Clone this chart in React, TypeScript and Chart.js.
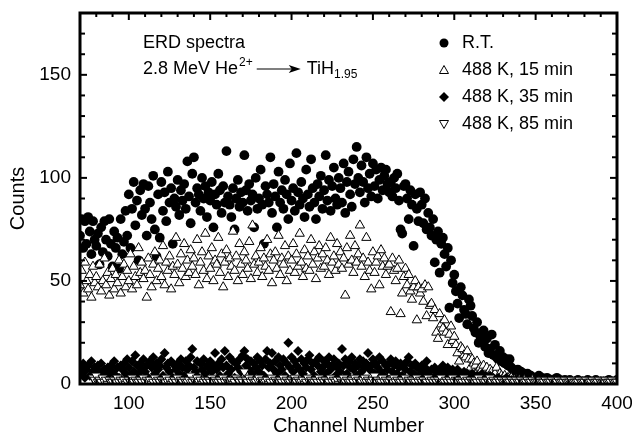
import React, { useEffect, useRef } from "react";
import { Chart, registerables } from "chart.js";

Chart.register(...registerables);

// ---- data ----
const firstChannel = 70; // channel of the first value in every series

const rtCounts: (number | null)[] = [
  72, 80, 66, 79, 68, 81, 74, 63, 79, 70, // 70
  67, 73, 58, 76, 64, 79, 70, 62, 80, 68, // 80
  57, 74, 66, 71, 56, 80, 63, 69, 84, 72, // 90
  92, 66, 85, 98, 77, 89, 60, 94, 82, 97, // 100
  85, 72, 96, 88, 80, 101, 75, 62, 92, 71, // 110
  98, 84, 93, 79, 103, 88, 95, 68, 90, 86, // 120
  99, 82, 94, 89, 97, 85, 108, 91, 78, 102, // 130
  110, 88, 95, 92, 84, 100, 90, 96, 81, 93, // 140
  89, 98, 76, 92, 87, 102, 94, 83, 96, 88, // 150
  113, 91, 87, 81, 95, 75, 90, 99, 86, 93, // 160
  88, 111, 94, 84, 97, 89, 92, 76, 100, 85, // 170
  90, 104, 87, 68, 96, 92, 88, 110, 83, 97, // 180
  91, 76, 103, 88, 94, 85, 99, 92, 80, 107, // 190
  89, 95, 84, 112, 93, 87, 98, 90, 81, 104, // 200
  92, 86, 109, 95, 88, 80, 97, 91, 101, 85, // 210
  94, 111, 89, 99, 84, 96, 105, 90, 87, 100, // 220
  95, 88, 107, 83, 98, 103, 92, 86, 109, 97, // 230
  115, 100, 93, 106, 98, 88, 110, 95, 102, 91, // 240
  107, 96, 104, 90, 99, 105, 94, 101, 104, 97, // 250
  93, 98, 91, 100, 95, 102, 89, 75, 73, 96, // 260
  97, 90, 80, 94, 87, 67, 92, 85, 79, 93, // 270
  87, 78, 90, 75, 83, 76, 72, 80, 59, 70, // 280
  74, 54, 68, 71, 63, 57, 66, 37, 60, 49, // 290
  53, 45, 39, 32, 47, 43, 36, 34, 29, 41, // 300
  38, 33, 27, 25, 30, 20, 23, 21, 26, 18, // 310
  22, 15, 17, 24, 14, 19, 13, 12, 16, 11, // 320
  13, 10, 12, 9, 12, 8, 7, 6, 5, 7, // 330
  4, 6, 3, 5, 4, 5, 3, 4, 2, 3, // 340
  3, 2, 4, 2, 3, 2, 1, 3, 2, 2, // 350
  1, 2, 1, 3, 1, 2, 1, 1, 2, 1, // 360
  1, 2, 1, 1, 0, 1, 2, 1, 1, 0, // 370
  1, 1, 2, 0, 1, 1, 0, 2, 1, 1, // 380
  0, 1, 1, 0, 1, 2, 0, 1, 1, 1, // 390
  2, // 400
];

const min15Counts: (number | null)[] = [
  48, 55, 44, 59, 50, 46, 53, 42, 57, 49, // 70
  52, 47, 58, 45, 50, 61, 48, 54, 43, 51, // 80
  56, 46, 53, 49, 60, 44, 52, 58, 47, 55, // 90
  50, 63, 46, 57, 52, 48, 66, 54, 59, 51, // 100
  55, 42, 61, 53, 47, 58, 64, 50, 56, 60, // 110
  52, 67, 48, 59, 55, 62, 46, 57, 53, 71, // 120
  58, 49, 63, 56, 68, 52, 60, 54, 65, 57, // 130
  61, 53, 70, 48, 59, 64, 55, 73, 51, 62, // 140
  56, 66, 50, 60, 58, 71, 54, 63, 47, 59, // 150
  65, 52, 61, 57, 74, 55, 62, 50, 68, 58, // 160
  53, 64, 60, 56, 69, 51, 77, 58, 62, 54, // 170
  59, 66, 52, 61, 57, 70, 55, 63, 49, 60, // 180
  64, 56, 72, 53, 61, 58, 67, 50, 62, 55, // 190
  60, 68, 54, 63, 57, 73, 59, 52, 65, 56, // 200
  62, 55, 70, 58, 64, 51, 61, 67, 56, 63, // 210
  57, 66, 60, 53, 71, 59, 62, 55, 68, 58, // 220
  64, 56, 61, 43, 66, 58, 72, 60, 54, 67, // 230
  59, 63, 77, 57, 61, 52, 71, 59, 55, 46, // 240
  64, 54, 59, 62, 48, 65, 57, 61, 53, 57, // 250
  58, 35, 61, 55, 50, 56, 60, 34, 44, 52, // 260
  56, 48, 53, 45, 41, 47, 50, 31, 47, 44, // 270
  46, 40, 48, 33, 47, 38, 39, 32, 36, 25, // 280
  22, 34, 29, 27, 31, 25, 19, 24, 28, 21, // 290
  23, 19, 15, 11, 18, 17, 14, 13, 16, 12, // 300
  8, 12, 10, 9, 11, 7, 8, 7, 9, 6, // 310
  8, 5, 7, 6, 4, 5, 8, 3, 5, 4, // 320
  3, 4, 2, 3, 2, 3, 1, 2, 2, 1, // 330
  2, 1, 1, 2, 1, 0, 1, 1, 2, 1, // 340
  1, 0, 1, 1, 0, 1, 1, 0, 1, 1, // 350
  0, 1, 1, 0, 1, 0, 1, 1, 0, 1, // 360
  1, 0, 1, 0, 1, 1, 0, 1, 0, 1, // 370
  0, 1, 1, 0, 1, 0, 1, 0, 1, 0, // 380
  1, 0, 1, 1, 0, 1, 0, 1, 0, 1, // 390
  0, // 400
];

const min35Counts: (number | null)[] = [
  8, 5, 10, 3, 7, 9, 4, 11, 6, 8, // 70
  3, 9, 6, 10, 4, 7, 2, 8, 5, 9, // 80
  6, 11, 4, 8, 3, 9, 7, 10, 5, 12, // 90
  8, 4, 11, 6, 14, 9, 5, 10, 7, 12, // 100
  6, 9, 3, 11, 8, 13, 5, 10, 7, 9, // 110
  12, 4, 15, 8, 10, 6, 11, 3, 9, 7, // 120
  10, 5, 12, 8, 4, 11, 7, 9, 13, 17, // 130
  8, 6, 11, 3, 10, 7, 12, 5, 9, 8, // 140
  11, 6, 9, 15, 7, 10, 4, 12, 8, 16, // 150
  9, 5, 13, 7, 11, 3, 10, 8, 12, 6, // 160
  14, 16, 9, 12, 7, 11, 5, 10, 8, 13, // 170
  6, 11, 9, 4, 12, 16, 8, 10, 15, 7, // 180
  11, 5, 13, 9, 7, 12, 4, 10, 20, 8, // 190
  13, 6, 11, 9, 16, 7, 12, 5, 10, 8, // 200
  12, 14, 7, 10, 4, 11, 9, 13, 6, 8, // 210
  11, 5, 10, 13, 7, 9, 12, 4, 8, 10, // 220
  6, 17, 9, 12, 5, 11, 8, 13, 7, 10, // 230
  4, 9, 12, 6, 11, 8, 10, 15, 7, 9, // 240
  12, 5, 10, 8, 13, 6, 11, 4, 9, 7, // 250
  10, 12, 6, 9, 11, 5, 8, 10, 4, 9, // 260
  7, 11, 13, 6, 9, 5, 10, 8, 4, 7, // 270
  9, 5, 8, 11, 6, 4, 7, 3, 8, 6, // 280
  5, 7, 4, 9, 3, 6, 8, 4, 5, 7, // 290
  3, 6, 7, 4, 5, 2, 6, 3, 5, 4, // 300
  4, 5, 2, 3, 4, 2, 3, 5, 2, 4, // 310
  2, 3, 4, 2, 3, 1, 2, 3, 2, 1, // 320
  2, 1, 3, 2, 1, 2, 1, 1, 2, 1, // 330
  1, 2, 1, 0, 1, 1, 2, 0, 1, 1, // 340
  0, 1, 1, 0, 1, 0, 1, 1, 0, 1, // 350
  1, 0, 1, 1, 0, 1, 0, 0, 1, 0, // 360
  0, 1, 0, 1, 0, 0, 1, 0, 1, 0, // 370
  1, 0, 0, 1, 0, 1, 0, 1, 0, 0, // 380
  0, 1, 0, 0, 1, 0, 1, 0, 0, 1, // 390
  0, // 400
];

const min85Counts: (number | null)[] = [
  null, null, null, null, null, null, null, null, 3, 2, // 70
  4, 1, 2, 1, 3, 1, 2, 0, 2, 1, // 80
  1, 2, 1, 3, 1, 2, 1, 2, 0, 1, // 90
  2, 1, 3, 1, 2, 1, 1, 2, 1, 3, // 100
  1, 2, 1, 2, 0, 1, 3, 1, 2, 1, // 110
  2, 1, 1, 3, 1, 2, 0, 1, 2, 1, // 120
  3, 1, 2, 1, 2, 1, 1, 2, 4, 1, // 130
  2, 1, 3, 1, 2, 0, 1, 2, 1, 2, // 140
  1, 3, 1, 2, 1, 1, 2, 1, 3, 1, // 150
  2, 1, 1, 2, 0, 1, 3, 2, 1, 2, // 160
  1, 6, 2, 1, 3, 1, 2, 1, 1, 2, // 170
  3, 1, 2, 1, 1, 2, 0, 1, 3, 1, // 180
  2, 1, 1, 2, 1, 3, 1, 2, 1, 1, // 190
  2, 1, 3, 1, 2, 1, 1, 2, 0, 1, // 200
  3, 1, 2, 1, 1, 2, 1, 3, 1, 2, // 210
  1, 2, 1, 1, 3, 1, 2, 1, 2, 0, // 220
  2, 1, 3, 1, 2, 1, 1, 2, 1, 3, // 230
  1, 2, 1, 1, 2, 3, 1, 2, 1, 1, // 240
  2, 4, 1, 2, 1, 1, 3, 1, 2, 1, // 250
  1, 2, 1, 3, 1, 2, 1, 1, 2, 1, // 260
  3, 1, 2, 1, 2, 1, 1, 3, 1, 2, // 270
  1, 2, 1, 1, 3, 1, 2, 1, 2, 1, // 280
  2, 1, 3, 1, 1, 2, 1, 2, 1, 3, // 290
  1, 2, 1, 2, 1, 1, 3, 1, 2, 1, // 300
  2, 1, 1, 2, 1, 3, 1, 2, 1, 1, // 310
  2, 1, 3, 1, 2, 1, 1, 2, 1, 2, // 320
  1, 1, 2, 1, 1, 2, 1, 1, 2, 1, // 330
  1, 2, 1, 1, 1, 2, 1, 1, 2, 1, // 340
  1, 1, 2, 1, 1, 1, 2, 1, 1, 1, // 350
  2, 1, 1, 1, 2, 1, 1, 1, 2, 1, // 360
  1, 1, 2, 1, 1, 1, 1, 2, 1, 1, // 370
  1, 2, 1, 1, 1, 2, 1, 1, 1, 2, // 380
  1, 1, 1, 2, 1, 1, 1, 2, 1, 1, // 390
  1, // 400
];

const seriesLabels = ["R.T.", "488 K, 15 min", "488 K, 35 min", "488 K, 85 min"];

const xRange = [70, 400];
const yRange = [0, 180];
const xMajorTicks = [100, 150, 200, 250, 300, 350, 400];
const xMinorTicks = [70, 80, 90, 110, 120, 130, 140, 160, 170, 180, 190, 210, 220, 230, 240, 260, 270, 280, 290, 310, 320, 330, 340, 360, 370, 380, 390];
const yMajorTicks = [0, 50, 100, 150];
const yMinorTicks = [10, 20, 30, 40, 60, 70, 80, 90, 110, 120, 130, 140, 160, 170];

const xTitle = "Channel Number";
const yTitle = "Counts";
const noteLine1 = "ERD spectra";
const noteBeam = "2.8 MeV He";
const noteCharge = "2+";
const noteTarget = "TiH";
const noteStoich = "1.95";

// ---- styles ----
const FONT = '"Liberation Sans", Arial, Helvetica, sans-serif';

function toPoints(values: (number | null)[]) {
  return values.map((v, i) => ({ x: firstChannel + i, y: v }));
}

function drawMarker(ctx: CanvasRenderingContext2D, kind: string, cx: number, cy: number) {
  ctx.save();
  ctx.fillStyle = "#000";
  ctx.strokeStyle = "#000";
  ctx.lineWidth = 1;
  ctx.beginPath();
  if (kind === "circle") {
    ctx.arc(cx, cy, 4.5, 0, Math.PI * 2);
    ctx.fill();
  } else if (kind === "up") {
    ctx.moveTo(cx, cy - 4.5);
    ctx.lineTo(cx + 4.5, cy + 3.5);
    ctx.lineTo(cx - 4.5, cy + 3.5);
    ctx.closePath();
    ctx.fillStyle = "#fff";
    ctx.fill();
    ctx.stroke();
  } else if (kind === "diamond") {
    ctx.moveTo(cx, cy - 5);
    ctx.lineTo(cx + 5, cy);
    ctx.lineTo(cx, cy + 5);
    ctx.lineTo(cx - 5, cy);
    ctx.closePath();
    ctx.fill();
  } else {
    ctx.moveTo(cx, cy + 4.5);
    ctx.lineTo(cx + 4.5, cy - 3.5);
    ctx.lineTo(cx - 4.5, cy - 3.5);
    ctx.closePath();
    ctx.fillStyle = "#fff";
    ctx.fill();
    ctx.stroke();
  }
  ctx.restore();
}

const framePlugin = {
  id: "frameAndText",
  afterDatasetsDraw(chart: any) {
    const { ctx, chartArea: a, scales } = chart;
    const xs = scales.x;
    const ys = scales.y;
    ctx.save();
    ctx.strokeStyle = "#000";
    ctx.fillStyle = "#000";

    const line = (x1: number, y1: number, x2: number, y2: number) => {
      ctx.beginPath();
      ctx.moveTo(x1, y1);
      ctx.lineTo(x2, y2);
      ctx.stroke();
    };

    // tick marks (inward, on all four sides)
    ctx.lineWidth = 2;
    const xt = [...xMajorTicks.map((v) => [v, 7]), ...xMinorTicks.map((v) => [v, 4])];
    xt.forEach(([v, len]) => {
      const px = xs.getPixelForValue(v);
      line(px, a.bottom, px, a.bottom - len);
      line(px, a.top, px, a.top + len);
    });
    const yt = [...yMajorTicks.map((v) => [v, 7]), ...yMinorTicks.map((v) => [v, 5])];
    yt.forEach(([v, len]) => {
      const py = ys.getPixelForValue(v);
      line(a.left, py, a.left + len, py);
      line(a.right, py, a.right - len, py);
    });

    // frame
    ctx.lineWidth = 3;
    ctx.strokeRect(a.left, a.top, a.right - a.left, a.bottom - a.top);

    // tick labels
    ctx.font = `19px ${FONT}`;
    ctx.textAlign = "center";
    ctx.textBaseline = "top";
    xMajorTicks.forEach((v) => ctx.fillText(String(v), xs.getPixelForValue(v), a.bottom + 10));
    ctx.textAlign = "right";
    ctx.textBaseline = "middle";
    yMajorTicks.forEach((v) => ctx.fillText(String(v), a.left - 9, ys.getPixelForValue(v)));

    // axis titles
    ctx.font = `20px ${FONT}`;
    ctx.textAlign = "center";
    ctx.textBaseline = "middle";
    ctx.fillText(xTitle, (a.left + a.right) / 2, 426);
    ctx.save();
    ctx.translate(18, (a.top + a.bottom) / 2);
    ctx.rotate(-Math.PI / 2);
    ctx.fillText(yTitle, 0, 0);
    ctx.restore();

    // annotation
    ctx.textAlign = "left";
    ctx.textBaseline = "middle";
    ctx.font = `18px ${FONT}`;
    const nx = 143;
    ctx.fillText(noteLine1, nx, 43);
    let cx = nx;
    const ny = 69;
    ctx.fillText(noteBeam, cx, ny);
    cx += ctx.measureText(noteBeam).width + 1;
    ctx.font = `12px ${FONT}`;
    ctx.fillText(noteCharge, cx, ny - 6);
    cx += ctx.measureText(noteCharge).width + 4;
    // arrow
    ctx.lineWidth = 1.2;
    const ax2 = cx + 44;
    line(cx, ny, ax2 - 4, ny);
    ctx.beginPath();
    ctx.moveTo(ax2, ny);
    ctx.lineTo(ax2 - 12, ny - 4);
    ctx.lineTo(ax2 - 9, ny);
    ctx.lineTo(ax2 - 12, ny + 4);
    ctx.closePath();
    ctx.fill();
    cx = ax2 + 6;
    ctx.font = `18px ${FONT}`;
    ctx.fillText(noteTarget, cx, ny);
    cx += ctx.measureText(noteTarget).width;
    ctx.font = `12px ${FONT}`;
    ctx.fillText(noteStoich, cx, ny + 6);

    // legend
    const kinds = ["circle", "up", "diamond", "down"];
    ctx.font = `18px ${FONT}`;
    seriesLabels.forEach((lab, i) => {
      const ly = 43 + i * 27;
      drawMarker(ctx, kinds[i], 444, ly);
      ctx.fillStyle = "#000";
      ctx.fillText(lab, 462, ly);
    });

    ctx.restore();
  },
};

export default function App() {
  const ref = useRef<HTMLCanvasElement | null>(null);

  useEffect(() => {
    document.body.style.margin = "0";
    const canvas = ref.current;
    if (!canvas) return;
    const chart = new Chart(canvas, {
      type: "scatter",
      data: {
        datasets: [
          {
            label: seriesLabels[0],
            data: toPoints(rtCounts),
            pointStyle: "circle",
            pointRadius: 4.9,
            backgroundColor: "#000",
            borderColor: "#000",
            borderWidth: 0,
            order: 4,
          },
          {
            label: seriesLabels[1],
            data: toPoints(min15Counts),
            pointStyle: "triangle",
            pointRadius: 5.4,
            backgroundColor: "#fff",
            borderColor: "#000",
            borderWidth: 1,
            order: 3,
          },
          {
            label: seriesLabels[2],
            data: toPoints(min35Counts),
            pointStyle: "rectRot",
            pointRadius: 5,
            backgroundColor: "#000",
            borderColor: "#000",
            borderWidth: 0,
            order: 2,
          },
          {
            label: seriesLabels[3],
            data: toPoints(min85Counts),
            pointStyle: "triangle",
            rotation: 180,
            pointRadius: 5.4,
            backgroundColor: "#fff",
            borderColor: "#000",
            borderWidth: 1,
            order: 1,
          },
        ] as any,
      },
      options: {
        animation: false,
        responsive: false,
        events: [],
        layout: { padding: { left: 80, right: 15, top: 13, bottom: 56 } },
        plugins: { legend: { display: false }, tooltip: { enabled: false } },
        scales: {
          x: { type: "linear", min: xRange[0], max: xRange[1], display: false },
          y: { type: "linear", min: yRange[0], max: yRange[1], display: false },
        },
      },
      plugins: [framePlugin],
    });
    return () => chart.destroy();
  }, []);

  return (
    <div style={{ width: 632, height: 440 }}>
      <canvas ref={ref} width={632} height={440} style={{ display: "block" }} />
    </div>
  );
}
